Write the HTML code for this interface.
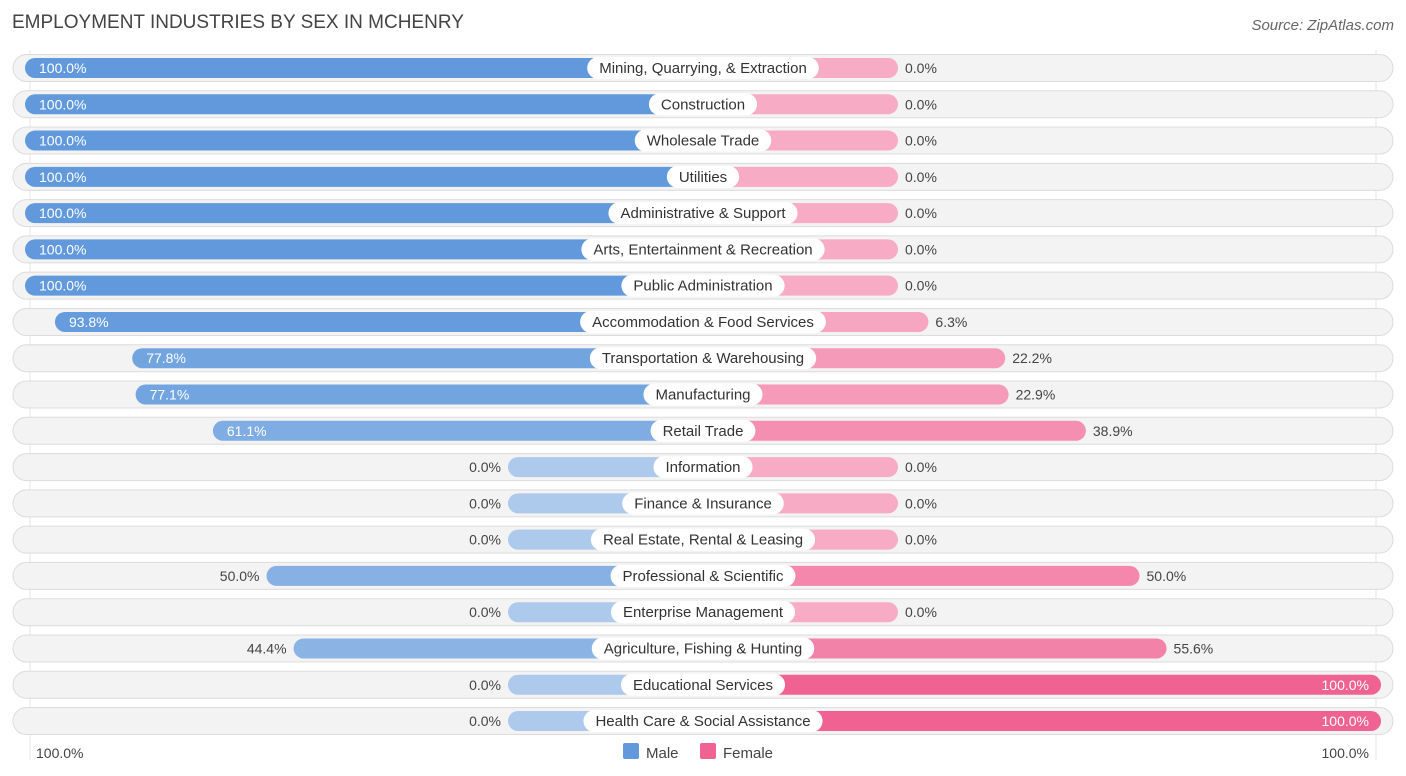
<!DOCTYPE html>
<html><head><meta charset="utf-8"><style>
body{margin:0;background:#fff;font-family:"Liberation Sans",sans-serif;}
#c{position:relative;width:1406px;height:776px;overflow:hidden}
</style></head><body><div id="c">
<svg id="s" width="1406" height="776" xmlns="http://www.w3.org/2000/svg" font-family="Liberation Sans, sans-serif">
<text x="12" y="28" font-size="19" fill="#444">EMPLOYMENT INDUSTRIES BY SEX IN MCHENRY</text>
<text x="1394" y="30" font-size="15" fill="#666" font-style="italic" text-anchor="end">Source: ZipAtlas.com</text>
<line x1="30" y1="50" x2="30" y2="760" stroke="#e4e4e4"/>
<line x1="1376" y1="50" x2="1376" y2="760" stroke="#e4e4e4"/>
<g id="rows"></g>
<text x="36" y="758" font-size="14" fill="#444">100.0%</text>
<text x="1369" y="758" font-size="14" fill="#444" text-anchor="end">100.0%</text>
<g>
<rect x="623" y="743" width="16" height="16" rx="2" fill="#6199dc"/>
<text x="646" y="758" font-size="15" fill="#444">Male</text>
<rect x="700" y="743" width="16" height="16" rx="2" fill="#f06292"/>
<text x="723" y="758" font-size="15" fill="#444">Female</text>
</g>
</svg></div>
<script>
const categories=["Mining, Quarrying, & Extraction","Construction","Wholesale Trade","Utilities","Administrative & Support","Arts, Entertainment & Recreation","Public Administration","Accommodation & Food Services","Transportation & Warehousing","Manufacturing","Retail Trade","Information","Finance & Insurance","Real Estate, Rental & Leasing","Professional & Scientific","Enterprise Management","Agriculture, Fishing & Hunting","Educational Services","Health Care & Social Assistance"];
const maleValues=[100,100,100,100,100,100,100,93.8,77.8,77.1,61.1,0,0,0,50,0,44.4,0,0];
const femaleValues=[0,0,0,0,0,0,0,6.3,22.2,22.9,38.9,0,0,0,50,0,55.6,100,100];
const NS="http://www.w3.org/2000/svg";
const cx=703,scale=4.83,y0=68,dy=36.28,stub=195;
function xm(v){return cx-stub-v*scale;}
function xf(v){return cx+stub+v*scale;}
function mix(a,b,t){const p=s=>[1,3,5].map(i=>parseInt(s.substr(i,2),16));const A=p(a),B=p(b);return "rgb("+A.map((x,i)=>Math.round(x+(B[i]-x)*t)).join(",")+")";}
function el(t,at,par){const e=document.createElementNS(NS,t);for(const k in at)e.setAttribute(k,at[k]);par.appendChild(e);return e;}
const g=document.getElementById('rows');
const meas=document.createElementNS(NS,'text');meas.setAttribute('font-size','15');g.appendChild(meas);
categories.forEach((c,i)=>{
 const y=y0+i*dy;
 const row=el('g',{},g);
 
 
 const bg=el('rect',{x:13,y:y-13.5,width:1380,height:27,rx:13.5,fill:'#f3f3f3',stroke:'#dcdcdc','stroke-width':1},row);
 
 
 const m=maleValues[i],f=femaleValues[i];
 const ml=xm(m);
 const mb=el('rect',{x:ml,y:y-10,width:cx-ml,height:20,rx:10,fill:mix('#adc9ec','#6199dc',m/100)},row);
 
 
 const fr=xf(f);
 const fb=el('rect',{x:cx,y:y-10,width:fr-cx,height:20,rx:10,fill:mix('#f7abc4','#f06292',f/100)},row);
 
 
 const mt=el('text',{y:y+5,'font-size':14},row);
 mt.textContent=m.toFixed(1)+'%';
 if(m>=60){mt.setAttribute('x',ml+14);mt.setAttribute('fill','#fff');}
 else{mt.setAttribute('x',ml-7);mt.setAttribute('text-anchor','end');mt.setAttribute('fill','#444');}
 
 
 const ft=el('text',{y:y+5,'font-size':14},row);
 ft.textContent=f.toFixed(1)+'%';
 if(f>=90){ft.setAttribute('x',fr-12);ft.setAttribute('text-anchor','end');ft.setAttribute('fill','#fff');}
 else{ft.setAttribute('x',fr+7);ft.setAttribute('fill','#444');}
 
 
 meas.textContent=c;const w=meas.getComputedTextLength()+24;
 const lp=el('rect',{x:cx-w/2,y:y-11,width:w,height:22,rx:11,fill:'#fff'},row);
 
 
 const lt=el('text',{x:cx,y:y+5,'font-size':15,'text-anchor':'middle',fill:'#333'},row);
 lt.textContent=c;
 
 
});
g.removeChild(meas);
</script></body></html>
